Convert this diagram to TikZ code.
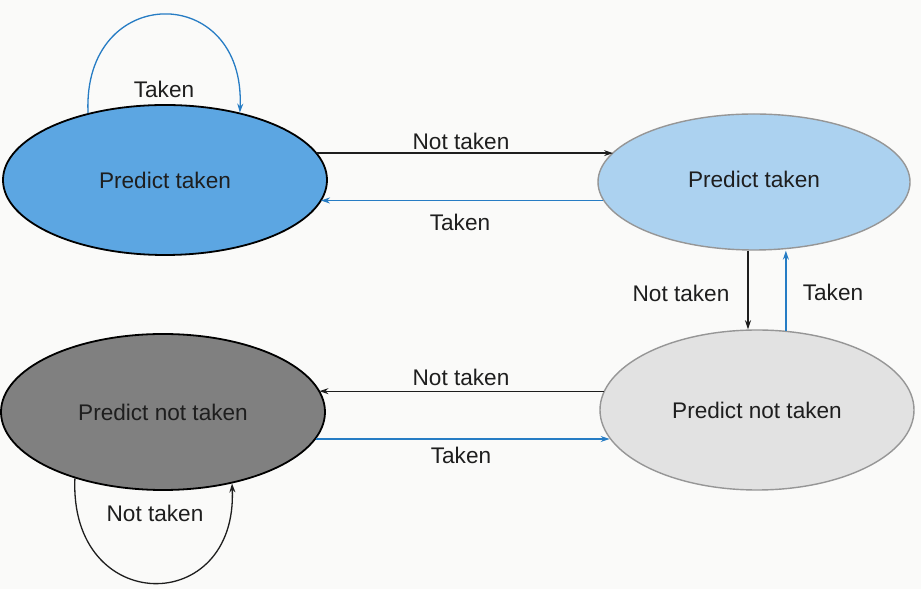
\documentclass[tikz,border=0pt]{standalone}
\usepackage{fontspec}
\setmainfont{Liberation Sans}
\usetikzlibrary{shapes.geometric,arrows.meta}
\definecolor{darkblue}{RGB}{92,166,226}
\definecolor{paleblue}{RGB}{172,210,240}
\definecolor{palegray}{RGB}{226,226,226}
\definecolor{darkgray}{RGB}{128,128,128}
\definecolor{rimgray}{RGB}{150,150,150}
\definecolor{linkblue}{RGB}{38,124,196}
\definecolor{ink}{RGB}{30,30,30}
\definecolor{paper}{RGB}{250,250,249}
\tikzset{
  state/.style={ellipse, inner sep=0pt, text=ink,
    font=\fontsize{22.6}{26}\selectfont},
  lbl/.style={text=ink, inner sep=0pt, font=\fontsize{22.6}{26}\selectfont},
  tip/.style={-{Stealth[length=9pt,width=6pt]}},
  nt/.style={tip, draw=ink, line width=1.3pt},
  tk/.style={tip, draw=linkblue, line width=1.3pt},
}
\begin{document}
\begin{tikzpicture}[x=1pt,y=1pt]
  \fill[paper] (0,0) rectangle (921,589);
  \useasboundingbox (0,0) rectangle (921,589);

  % the four states
  \node[state, fill=darkblue, draw=black, line width=1.8pt,
        minimum width=324pt, minimum height=150pt] (pt1) at (165,409) {Predict taken};
  \node[state, fill=paleblue, draw=rimgray, line width=1.4pt,
        minimum width=312pt, minimum height=136pt] (pt2) at (754,407) {\raisebox{6pt}{Predict taken}};
  \node[state, fill=palegray, draw=rimgray, line width=1.4pt,
        minimum width=314pt, minimum height=160pt] (pn2) at (757,179) {Predict not taken};
  \node[state, fill=darkgray, draw=black, line width=1.8pt,
        minimum width=324pt, minimum height=156pt] (pn1) at (163,177) {Predict not taken};

  % horizontal transitions, top row
  \draw[nt] (pt1.10) -- (pt2.168 |- pt1.10);
  \draw[tk] (pt2.187) -- (pt1.352 |- pt2.187);
  % vertical transitions
  \draw[nt] (pt2.265) -- (pn2.north -| pt2.265);
  \draw[tk] (pn2.70) -- (pt2.south -| pn2.70);
  % horizontal transitions, bottom row
  \draw[nt] (pn2.173) -- (pn1.8 |- pn2.173);
  \draw[tk] (pn1.350) -- (pn2.191 |- pn1.350);

  % self loops
  \draw[tk] (pt1.139) .. controls +(-6,131) and +(6,131) .. (pt1.42);
  \draw[nt] (pn1.217) .. controls +(-6,-138) and +(6,-134) .. (pn1.314);

  % transition labels
  \node[lbl] (l1) at (461,448) {Not taken};
  \node[lbl] (l2) at (460,367) {Taken};
  \node[lbl] (l3) at (681,296) {Not taken};
  \node[lbl] (l4) at (833,297) {Taken};
  \node[lbl] (l5) at (461,212) {Not taken};
  \node[lbl] (l6) at (461,134) {Taken};
  \node[lbl] (l7) at (164,500) {Taken};
  \node[lbl] (l8) at (155,76) {Not taken};
\end{tikzpicture}
\end{document}
